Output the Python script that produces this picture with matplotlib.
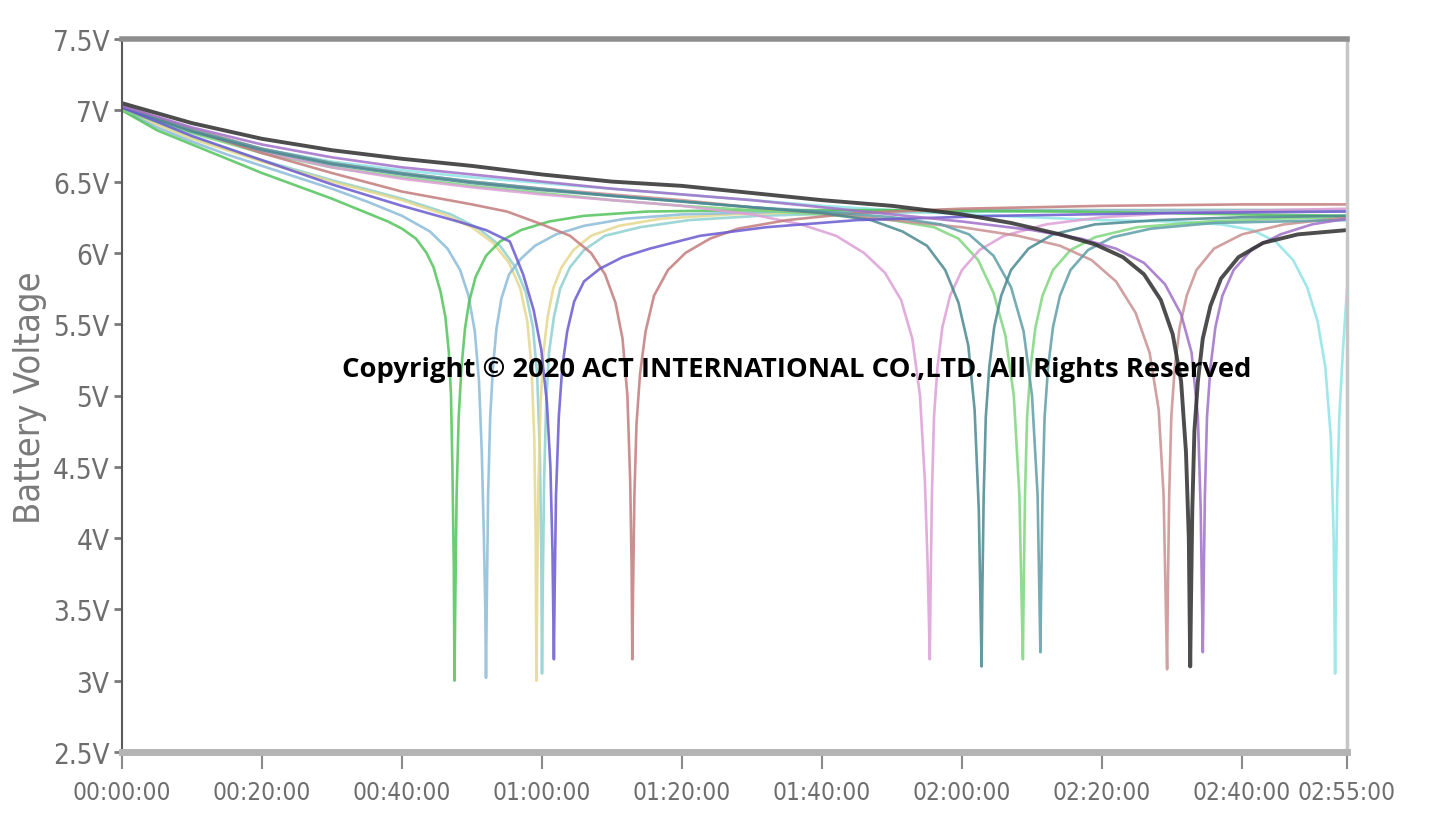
import numpy as np
import matplotlib
matplotlib.use('Agg')
import matplotlib.pyplot as plt

#%% Datos (tiempo en minutos, tensión en V)
y_ticks = [2.5, 3, 3.5, 4, 4.5, 5, 5.5, 6, 6.5, 7, 7.5]
y_labels = ['2.5V', '3V', '3.5V', '4V', '4.5V', '5V', '5.5V', '6V', '6.5V', '7V', '7.5V']
x_ticks = [0, 20, 40, 60, 80, 100, 120, 140, 160, 175]
x_labels = ['00:00:00', '00:20:00', '00:40:00', '01:00:00', '01:20:00', '01:40:00',
            '02:00:00', '02:20:00', '02:40:00', '02:55:00']

# verde
b01_t = [0, 5, 10, 15, 20, 25, 30, 35, 38, 40, 42, 43.5, 44.5, 45.5, 46.2, 46.7, 47, 47.2, 47.4, 47.5,
         47.6, 47.8, 48.1, 48.5, 49.0, 49.6, 50.5, 52, 54, 57, 61, 66, 75, 90, 110, 135, 160, 175]
b01_v = [7.0, 6.86, 6.76, 6.66, 6.56, 6.47, 6.38, 6.28, 6.22, 6.17, 6.1, 6.0, 5.9, 5.73, 5.55, 5.3, 5.0, 4.5, 3.8, 3.0,
         3.5, 4.3, 4.85, 5.2, 5.47, 5.66, 5.83, 5.98, 6.08, 6.16, 6.22, 6.26, 6.29, 6.3, 6.3, 6.29, 6.27, 6.26]
# celeste
b02_t = [0, 5, 10, 15, 20, 25, 30, 35, 40, 44, 46.5, 48.3, 49.5, 50.4, 51.0, 51.4, 51.7, 51.9, 52.0,
         52.1, 52.3, 52.6, 53.0, 53.5, 54.2, 55.3, 57, 59, 62, 66, 72, 80, 95, 115, 140, 175]
b02_v = [7.0, 6.88, 6.78, 6.69, 6.61, 6.53, 6.45, 6.36, 6.26, 6.15, 6.03, 5.88, 5.7, 5.45, 5.1, 4.6, 4.0, 3.5, 3.02,
         3.5, 4.3, 4.85, 5.2, 5.47, 5.68, 5.85, 5.96, 6.05, 6.13, 6.19, 6.24, 6.27, 6.29, 6.3, 6.3, 6.3]
# amarillo
b03_t = [0, 10, 20, 30, 40, 46, 50, 53, 55.3, 56.9, 57.9, 58.5, 58.9, 59.1, 59.2,
         59.3, 59.5, 59.8, 60.2, 60.8, 61.6, 62.8, 64.5, 67, 71, 77, 87, 100, 120, 150, 175]
b03_v = [7.0, 6.8, 6.64, 6.5, 6.37, 6.27, 6.18, 6.07, 5.93, 5.75, 5.52, 5.2, 4.7, 4.0, 3.0,
         3.6, 4.4, 4.95, 5.3, 5.55, 5.75, 5.9, 6.02, 6.12, 6.19, 6.24, 6.27, 6.29, 6.3, 6.3, 6.3]
# turquesa claro
b04_t = [0, 10, 20, 30, 40, 47, 51, 54, 56.2, 57.7, 58.7, 59.3, 59.7, 59.9, 60.0,
         60.1, 60.3, 60.6, 61.0, 61.7, 62.6, 64, 66, 69, 74, 81, 91, 105, 125, 150, 175]
b04_v = [7.01, 6.81, 6.65, 6.51, 6.38, 6.27, 6.17, 6.05, 5.9, 5.72, 5.48, 5.15, 4.6, 3.9, 3.05,
         3.6, 4.4, 4.95, 5.3, 5.55, 5.75, 5.9, 6.02, 6.12, 6.18, 6.23, 6.26, 6.28, 6.29, 6.3, 6.3]
# azul violeta
b05_t = [0, 10, 20, 30, 40, 48, 52, 55.4, 57.3, 58.8, 59.9, 60.7, 61.2, 61.5, 61.7,
         61.8, 62.0, 62.4, 62.9, 63.6, 64.6, 66, 68.3, 71.5, 75.4, 82.6, 92, 105, 125, 150, 175]
b05_v = [7.02, 6.82, 6.65, 6.48, 6.33, 6.22, 6.16, 6.08, 5.85, 5.6, 5.32, 4.95, 4.5, 3.9, 3.15,
         3.6, 4.3, 4.85, 5.2, 5.45, 5.66, 5.8, 5.89, 5.97, 6.03, 6.12, 6.18, 6.23, 6.26, 6.28, 6.29]
# rojo ladrillo
b06_t = [0, 10, 20, 30, 40, 50, 55, 60, 64, 67, 69, 70.5, 71.5, 72.2, 72.6, 72.8, 72.9,
         73.0, 73.2, 73.5, 74.0, 74.8, 76, 78, 80.5, 84, 88, 95, 105, 120, 140, 160, 175]
b06_v = [7.02, 6.86, 6.7, 6.56, 6.43, 6.34, 6.29, 6.2, 6.12, 6.0, 5.85, 5.65, 5.4, 5.0, 4.4, 3.8, 3.15,
         3.6, 4.3, 4.8, 5.15, 5.45, 5.7, 5.88, 6.0, 6.1, 6.17, 6.23, 6.28, 6.31, 6.33, 6.34, 6.34]
# rosa
b07_t = [0, 10, 20, 30, 40, 50, 60, 70, 80, 90, 97, 102, 106, 109, 111.3, 112.9, 114.0, 114.7, 115.1, 115.4,
         115.5, 115.7, 116.0, 116.5, 117.2, 118.3, 120, 122.5, 126, 132, 140, 150, 165, 175]
b07_v = [7.03, 6.86, 6.71, 6.6, 6.52, 6.46, 6.41, 6.37, 6.33, 6.27, 6.2, 6.12, 6.0, 5.86, 5.67, 5.4, 5.0, 4.4, 3.8, 3.15,
         3.6, 4.3, 4.85, 5.2, 5.48, 5.7, 5.88, 6.02, 6.12, 6.2, 6.25, 6.28, 6.3, 6.31]
# verde azulado oscuro
b08_t = [0, 10, 20, 30, 40, 50, 60, 70, 80, 90, 100, 107, 111.5, 115, 117.6, 119.5, 120.9, 121.8, 122.4, 122.8,
         122.9, 123.1, 123.4, 123.9, 124.6, 125.6, 127, 129.5, 133, 139, 148, 160, 175]
b08_v = [7.02, 6.85, 6.72, 6.62, 6.55, 6.49, 6.44, 6.4, 6.36, 6.32, 6.28, 6.23, 6.15, 6.05, 5.88, 5.65, 5.35, 4.9, 4.2, 3.1,
         3.6, 4.3, 4.85, 5.2, 5.48, 5.7, 5.88, 6.03, 6.13, 6.2, 6.23, 6.25, 6.26]
# verde claro
b09_t = [0, 10, 20, 30, 40, 50, 60, 70, 80, 90, 100, 110, 116, 119.5, 122.3, 124.5, 126.2, 127.4, 128.2, 128.7,
         128.8, 129.0, 129.3, 129.8, 130.5, 131.5, 133, 135.5, 139, 145, 155, 165, 175]
b09_v = [7.0, 6.84, 6.7, 6.6, 6.53, 6.47, 6.42, 6.37, 6.33, 6.3, 6.27, 6.23, 6.18, 6.1, 5.95, 5.72, 5.42, 5.0, 4.3, 3.15,
         3.6, 4.3, 4.85, 5.2, 5.48, 5.7, 5.88, 6.02, 6.11, 6.18, 6.22, 6.24, 6.25]
# verde azulado
b10_t = [0, 10, 20, 30, 40, 50, 60, 70, 80, 90, 100, 110, 117, 121, 124.5, 127, 128.8, 130, 130.8, 131.2,
         131.3, 131.5, 131.8, 132.3, 133, 134, 135.5, 138, 141.5, 147, 156, 165, 175]
b10_v = [7.02, 6.86, 6.73, 6.63, 6.56, 6.5, 6.45, 6.4, 6.36, 6.32, 6.29, 6.25, 6.2, 6.13, 5.98, 5.76, 5.45, 5.0, 4.3, 3.2,
         3.6, 4.3, 4.85, 5.2, 5.48, 5.7, 5.88, 6.02, 6.11, 6.17, 6.21, 6.22, 6.23]
# rosado marrón
b11_t = [0, 10, 20, 30, 40, 50, 60, 70, 80, 90, 100, 110, 120, 128, 134, 138.5, 142, 144.8, 146.8, 148.1, 148.8, 149.3,
         149.4, 149.6, 149.9, 150.4, 151.1, 152.1, 153.5, 156, 160, 166, 175]
b11_v = [7.03, 6.87, 6.73, 6.63, 6.56, 6.5, 6.45, 6.41, 6.37, 6.32, 6.28, 6.23, 6.18, 6.12, 6.05, 5.95, 5.8, 5.58, 5.3, 4.9, 4.3, 3.08,
         3.6, 4.3, 4.85, 5.2, 5.48, 5.7, 5.88, 6.03, 6.13, 6.2, 6.25]
# negro
b12_t = [0, 10, 20, 30, 40, 50, 60, 70, 80, 90, 100, 110, 120, 127, 134, 139, 143, 146, 148.4, 150.1, 151.3, 152.0, 152.4, 152.6,
         152.7, 152.9, 153.2, 153.7, 154.4, 155.5, 157, 159.5, 163, 168, 175]
b12_v = [7.05, 6.91, 6.8, 6.72, 6.66, 6.61, 6.55, 6.5, 6.47, 6.42, 6.37, 6.33, 6.27, 6.21, 6.13, 6.06, 5.97, 5.85, 5.67, 5.43, 5.1, 4.6, 4.0, 3.1,
         3.5, 4.2, 4.75, 5.1, 5.4, 5.63, 5.82, 5.97, 6.07, 6.13, 6.16]
# violeta
b13_t = [0, 10, 20, 30, 40, 50, 60, 70, 80, 90, 100, 110, 120, 130, 137, 142, 146, 149, 151.3, 152.8, 153.7, 154.1, 154.4,
         154.5, 154.7, 155.0, 155.5, 156.2, 157.2, 158.8, 161.5, 165.5, 170, 175]
b13_v = [7.03, 6.88, 6.76, 6.67, 6.6, 6.55, 6.5, 6.45, 6.41, 6.37, 6.32, 6.27, 6.22, 6.16, 6.1, 6.03, 5.93, 5.78, 5.57, 5.3, 4.85, 4.2, 3.2,
         3.6, 4.3, 4.85, 5.2, 5.48, 5.7, 5.88, 6.03, 6.13, 6.2, 6.24]
# cian
b14_t = [0, 10, 20, 30, 40, 50, 60, 70, 80, 90, 100, 110, 120, 130, 140, 150, 157, 161.5, 164.8, 167.3, 169.3, 170.8, 171.9, 172.7, 173.1, 173.3,
         173.4, 173.6, 173.9, 174.4, 175]
b14_v = [7.02, 6.86, 6.73, 6.64, 6.58, 6.53, 6.49, 6.45, 6.41, 6.37, 6.33, 6.3, 6.27, 6.25, 6.23, 6.22, 6.2, 6.16, 6.08, 5.95, 5.76, 5.52, 5.2, 4.7, 4.0, 3.05,
         3.6, 4.3, 4.85, 5.3, 5.75]

#%% Estilo de cada curva
curvas = [
    (b14_t, b14_v, '#8fe3e6', 1.9),
    (b04_t, b04_v, '#8ecfcf', 1.9),
    (b03_t, b03_v, '#e6d88c', 1.9),
    (b02_t, b02_v, '#8bbbd9', 1.9),
    (b01_t, b01_v, '#52c45a', 1.9),
    (b09_t, b09_v, '#7fd67f', 1.9),
    (b07_t, b07_v, '#dd9fd6', 1.9),
    (b11_t, b11_v, '#c99090', 1.9),
    (b06_t, b06_v, '#c47c7c', 1.9),
    (b10_t, b10_v, '#5e9ea6', 1.9),
    (b08_t, b08_v, '#4a8890', 1.9),
    (b05_t, b05_v, '#6a5ad0', 1.9),
    (b13_t, b13_v, '#a070c8', 1.9),
    (b12_t, b12_v, '#2e2e2e', 2.8),
]

gris = '#6e6e6e'
fuente_tick = dict(family='DejaVu Sans', stretch='condensed', size=17.5)

#%% Gráfico
fig = plt.figure(figsize=(14.37, 8.29), dpi=100)
ax = fig.add_axes([122 / 1437, 76 / 829, 1225 / 1437, 713 / 829])

for t, v, c, lw in curvas:
    ax.plot(t, v, color=c, lw=lw, alpha=0.85, solid_capstyle='round', solid_joinstyle='round')

ax.set_xlim(0, 175)
ax.set_ylim(2.5, 7.5)
ax.set_xticks(x_ticks)
ax.set_xticklabels(x_labels, fontdict=fuente_tick, color=gris)
ax.set_yticks(y_ticks)
ax.set_yticklabels(y_labels, fontdict=dict(fuente_tick, size=20), color=gris)
ax.tick_params(axis='x', length=12, width=1.5, color='#8a8a8a', pad=8)
ax.tick_params(axis='y', length=6, width=2, color='#7a7a7a', pad=3)

ax.spines['top'].set_color('#8e8e8e')
ax.spines['top'].set_linewidth(4)
ax.spines['bottom'].set_color('#b4b4b4')
ax.spines['bottom'].set_linewidth(5)
ax.spines['left'].set_color('#5a5a5a')
ax.spines['left'].set_linewidth(1.5)
ax.spines['right'].set_color('#c6c6c6')
ax.spines['right'].set_linewidth(2.5)

fig.text(30 / 1437, 1 - 398 / 829, 'Battery Voltage', rotation=90, ha='center', va='center',
         family='DejaVu Sans', stretch='condensed', size=26, color='#7a7a7a')

fig.text(797 / 1437, 1 - 370 / 829, 'Copyright © 2020 ACT INTERNATIONAL CO.,LTD. All Rights Reserved',
         ha='center', va='center', fontsize=19.7, fontweight='bold', fontfamily='Open Sans', color='black')

plt.savefig('out.png', dpi=100)
